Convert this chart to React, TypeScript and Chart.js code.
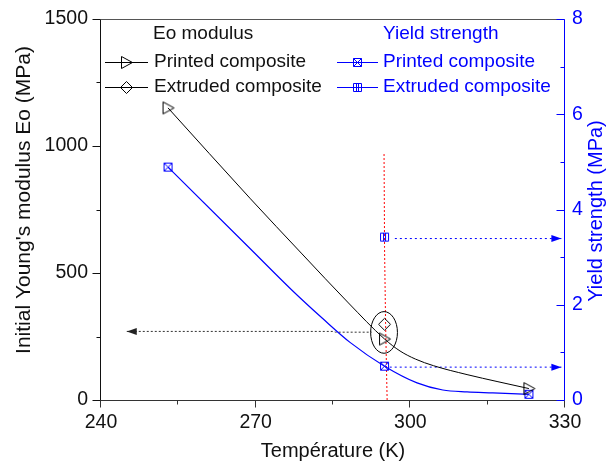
import React, { useEffect, useRef } from 'react';
import { Chart, registerables } from 'chart.js';

Chart.register(...registerables);

const FONT = '"Liberation Sans", Arial, Helvetica, sans-serif';
const BLUE = '#0000ff';
const INK = '#111111';

// ---- measured data points ----
const tempPoints = [253, 295, 323];
const eoPrinted = [1150, 240, 45];
const tempExtruded = [295];
const eoExtruded = [298];
const yieldPrinted = [4.89, 0.71, 0.12];
const yieldExtruded = [3.42];

// ---- guide curves ----
const eoCurveT = [253, 269, 279, 288, 295, 298, 301, 304.5, 311, 317, 323];
const eoCurve = [1150, 792, 575, 382, 240, 193, 161, 135, 100, 72, 45];
const yieldCurveT = [253, 269, 277, 283, 288.3, 295, 301.3, 306.3, 311, 316, 323];
const yieldCurve = [4.89, 3.17, 2.31, 1.71, 1.21, 0.71, 0.36, 0.21, 0.17, 0.15, 0.12];

// ---- annotations ----
const redGuideT = [295.5, 295.2, 295.0, 294.9];
const redGuideE = [0, 300, 600, 976];
const blackArrowT = [245, 285, 285.5, 292.5];
const blackArrowE = [270, 270, 267, 267];
const blueArrowUpperT = [297, 329.3];
const blueArrowUpperY = [3.39, 3.39];
const blueArrowLowerT = [296, 329.3];
const blueArrowLowerY = [0.69, 0.69];
const ellipseCenter = [294.9, 266];
const ellipseRadius = [2.6, 82];

// ---- axes ----
const xRange = [240, 330];
const xStep = 15;
const xLabelStep = 30;
const eoRange = [0, 1500];
const eoStep = 250;
const eoLabelStep = 500;
const yieldRange = [0, 8];
const yieldStep = 1;
const yieldLabelStep = 2;

const xTitle = 'Température (K)';
const eoTitle = "Initial Young's modulus Eo (MPa)";
const yieldTitle = 'Yield strength (MPa)';
const legendEoHeader = 'Eo modulus';
const legendYieldHeader = 'Yield strength';
const legendPrinted = 'Printed composite';
const legendExtruded = 'Extruded composite';

const pts = (xs: number[], ys: number[]) => xs.map((x, i) => ({ x, y: ys[i] }));

function makeMarker(kind: string, color: string): HTMLCanvasElement {
  const c = document.createElement('canvas');
  c.width = 15;
  c.height = 15;
  const g = c.getContext('2d')!;
  g.strokeStyle = color;
  g.lineWidth = 1;
  g.beginPath();
  if (kind === 'triRight') {
    g.moveTo(2.5, 1.5);
    g.lineTo(2.5, 13.5);
    g.lineTo(13.5, 7.5);
    g.closePath();
  } else if (kind === 'diamond') {
    g.moveTo(7.5, 1.5);
    g.lineTo(13.5, 7.5);
    g.lineTo(7.5, 13.5);
    g.lineTo(1.5, 7.5);
    g.closePath();
  } else if (kind === 'squareX') {
    g.rect(3.5, 3.5, 8, 8);
    g.moveTo(3.5, 3.5);
    g.lineTo(11.5, 11.5);
    g.moveTo(11.5, 3.5);
    g.lineTo(3.5, 11.5);
  } else if (kind === 'squareBar') {
    g.rect(3.5, 3.5, 8, 8);
    g.moveTo(6.5, 3.5);
    g.lineTo(6.5, 11.5);
    g.moveTo(8.5, 3.5);
    g.lineTo(8.5, 11.5);
  }
  g.stroke();
  return c;
}

function drawHead(ctx: CanvasRenderingContext2D, tx: number, ty: number, fx: number, fy: number, color: string) {
  const a = Math.atan2(ty - fy, tx - fx);
  const len = 10;
  const hw = 3.5;
  ctx.save();
  ctx.fillStyle = color;
  ctx.beginPath();
  ctx.moveTo(tx, ty);
  ctx.lineTo(tx - len * Math.cos(a) + hw * Math.sin(a), ty - len * Math.sin(a) - hw * Math.cos(a));
  ctx.lineTo(tx - len * Math.cos(a) - hw * Math.sin(a), ty - len * Math.sin(a) + hw * Math.cos(a));
  ctx.closePath();
  ctx.fill();
  ctx.restore();
}

export default function App() {
  const ref = useRef<HTMLCanvasElement | null>(null);

  useEffect(() => {
    const canvas = ref.current;
    if (!canvas) return;
    const mTri = makeMarker('triRight', '#000');
    const mDia = makeMarker('diamond', '#000');
    const mSqX = makeMarker('squareX', BLUE);
    const mSqB = makeMarker('squareBar', BLUE);

    const overlay = {
      id: 'overlay',
      afterDatasetsDraw(chart: any) {
        const ctx: CanvasRenderingContext2D = chart.ctx;
        const sx = chart.scales.x;
        const sy = chart.scales.y;
        const sy1 = chart.scales.y1;
        const cx = sx.getPixelForValue(ellipseCenter[0]);
        const cy = sy.getPixelForValue(ellipseCenter[1]);
        const rx = Math.abs(sx.getPixelForValue(ellipseCenter[0] + ellipseRadius[0]) - cx);
        const ry = Math.abs(sy.getPixelForValue(ellipseCenter[1] + ellipseRadius[1]) - cy);
        ctx.save();
        ctx.strokeStyle = '#000';
        ctx.lineWidth = 1;
        ctx.beginPath();
        ctx.ellipse(cx, cy, rx, ry, 0, 0, Math.PI * 2);
        ctx.stroke();
        ctx.restore();
        drawHead(ctx, sx.getPixelForValue(blackArrowT[0]), sy.getPixelForValue(blackArrowE[0]),
          sx.getPixelForValue(blackArrowT[1]), sy.getPixelForValue(blackArrowE[1]), '#222');
        drawHead(ctx, sx.getPixelForValue(blueArrowUpperT[1]), sy1.getPixelForValue(blueArrowUpperY[1]),
          sx.getPixelForValue(blueArrowUpperT[0]), sy1.getPixelForValue(blueArrowUpperY[0]), BLUE);
        drawHead(ctx, sx.getPixelForValue(blueArrowLowerT[1]), sy1.getPixelForValue(blueArrowLowerY[1]),
          sx.getPixelForValue(blueArrowLowerT[0]), sy1.getPixelForValue(blueArrowLowerY[0]), BLUE);
      },
      afterDraw(chart: any) {
        const ctx: CanvasRenderingContext2D = chart.ctx;
        const a = chart.chartArea;
        const sx = chart.scales.x;
        const sy = chart.scales.y;
        const sy1 = chart.scales.y1;
        const L = Math.round(a.left) - 0.5;
        const R = Math.round(a.right) - 0.5;
        const T = Math.round(a.top) + 0.5;
        const B = Math.round(a.bottom) + 0.5;
        const line = (x1: number, y1: number, x2: number, y2: number, color: string) => {
          ctx.strokeStyle = color;
          ctx.beginPath();
          ctx.moveTo(x1, y1);
          ctx.lineTo(x2, y2);
          ctx.stroke();
        };
        ctx.save();
        ctx.lineWidth = 1;
        line(L, T, R, T, '#555');
        line(L, B, R, B, '#333');
        line(L, T, L, B, INK);
        line(R, T, R, B, BLUE);
        for (let v = xRange[0]; v <= xRange[1] + 1e-9; v += xStep) {
          const p = Math.round(sx.getPixelForValue(v)) - 0.5;
          const len = v % xLabelStep === 0 ? 7 : 4;
          line(p, B, p, B + len, '#333');
        }
        for (let v = eoRange[0]; v <= eoRange[1] + 1e-9; v += eoStep) {
          const p = Math.round(sy.getPixelForValue(v)) + 0.5;
          const len = v % eoLabelStep === 0 ? 8 : 4;
          line(L - len, p, L, p, INK);
        }
        for (let v = yieldRange[0]; v <= yieldRange[1] + 1e-9; v += yieldStep) {
          const p = Math.round(sy1.getPixelForValue(v)) + 0.5;
          const len = v % yieldLabelStep === 0 ? 8 : 4;
          line(R - len, p, R, p, BLUE);
        }
        // titles
        ctx.textAlign = 'center';
        ctx.textBaseline = 'middle';
        ctx.fillStyle = INK;
        ctx.font = `20px ${FONT}`;
        ctx.fillText(xTitle, (a.left + a.right) / 2, 451);
        ctx.save();
        ctx.font = `21px ${FONT}`;
        ctx.translate(24, 200);
        ctx.rotate(-Math.PI / 2);
        ctx.fillText(eoTitle, 0, 0);
        ctx.restore();
        ctx.save();
        ctx.font = `20px ${FONT}`;
        ctx.fillStyle = BLUE;
        ctx.translate(596, 211);
        ctx.rotate(-Math.PI / 2);
        ctx.fillText(yieldTitle, 0, 0);
        ctx.restore();
        // legend
        ctx.font = `19px ${FONT}`;
        ctx.textAlign = 'left';
        ctx.fillStyle = INK;
        ctx.fillText(legendEoHeader, 153, 34);
        ctx.fillText(legendPrinted, 154, 62);
        ctx.fillText(legendExtruded, 154, 87);
        ctx.fillStyle = BLUE;
        ctx.fillText(legendYieldHeader, 383, 34);
        ctx.fillText(legendPrinted, 383, 62);
        ctx.fillText(legendExtruded, 383, 87);
        line(105, 62.5, 148, 62.5, '#000');
        line(105, 87.5, 148, 87.5, '#000');
        line(337, 62.5, 378, 62.5, BLUE);
        line(337, 87.5, 378, 87.5, BLUE);
        ctx.drawImage(mTri, 119, 55);
        ctx.drawImage(mDia, 119, 80);
        ctx.drawImage(mSqX, 350, 55);
        ctx.drawImage(mSqB, 350, 80);
        ctx.restore();
      },
    };

    const tickFont = { family: FONT, size: 19.5 };

    const chart = new Chart(canvas, {
      type: 'scatter',
      data: {
        datasets: [
          { label: 'Eo printed', data: pts(tempPoints, eoPrinted), yAxisID: 'y', showLine: false, pointStyle: mTri as any, pointRadius: 7 },
          { label: 'Eo extruded', data: pts(tempExtruded, eoExtruded), yAxisID: 'y', showLine: false, pointStyle: mDia as any, pointRadius: 7 },
          { label: 'Yield printed', data: pts(tempPoints, yieldPrinted), yAxisID: 'y1', showLine: false, pointStyle: mSqX as any, pointRadius: 6 },
          { label: 'Yield extruded', data: pts(tempExtruded, yieldExtruded), yAxisID: 'y1', showLine: false, pointStyle: mSqB as any, pointRadius: 6 },
          { label: 'Eo curve', data: pts(eoCurveT, eoCurve), yAxisID: 'y', showLine: true, pointRadius: 0, borderColor: '#000', borderWidth: 1, cubicInterpolationMode: 'monotone' },
          { label: 'Yield curve', data: pts(yieldCurveT, yieldCurve), yAxisID: 'y1', showLine: true, pointRadius: 0, borderColor: BLUE, borderWidth: 1.2, cubicInterpolationMode: 'monotone' },
          { label: 'red guide', data: pts(redGuideT, redGuideE), yAxisID: 'y', showLine: true, pointRadius: 0, borderColor: '#ff0000', borderWidth: 1, borderDash: [2, 2] },
          { label: 'black arrow', data: pts(blackArrowT, blackArrowE), yAxisID: 'y', showLine: true, pointRadius: 0, borderColor: '#333', borderWidth: 1, borderDash: [2, 2] },
          { label: 'blue arrow upper', data: pts(blueArrowUpperT, blueArrowUpperY), yAxisID: 'y1', showLine: true, pointRadius: 0, borderColor: BLUE, borderWidth: 1, borderDash: [2, 3] },
          { label: 'blue arrow lower', data: pts(blueArrowLowerT, blueArrowLowerY), yAxisID: 'y1', showLine: true, pointRadius: 0, borderColor: BLUE, borderWidth: 1, borderDash: [2, 3] },
        ] as any,
      },
      options: {
        responsive: false,
        animation: false,
        devicePixelRatio: 1,
        layout: { padding: { top: 19, left: 0, right: 0, bottom: 0 } },
        plugins: { legend: { display: false }, tooltip: { enabled: false } },
        scales: {
          x: {
            type: 'linear',
            min: xRange[0],
            max: xRange[1],
            grid: { display: false, drawTicks: false },
            border: { display: false },
            ticks: {
              stepSize: xStep,
              autoSkip: false,
              maxRotation: 0,
              padding: 11,
              color: INK,
              font: tickFont,
              callback: (v: any) => (Number(v) % xLabelStep === 0 ? String(v) : ''),
            },
            afterFit: (s: any) => { s.height = 66; s.paddingLeft = 0; s.paddingRight = 0; },
          },
          y: {
            type: 'linear',
            position: 'left',
            min: eoRange[0],
            max: eoRange[1],
            grid: { display: false, drawTicks: false },
            border: { display: false },
            ticks: {
              stepSize: eoStep,
              autoSkip: false,
              padding: 13,
              color: INK,
              font: tickFont,
              callback: (v: any) => (Number(v) % eoLabelStep === 0 ? String(v) : ''),
            },
            afterFit: (s: any) => { s.width = 101; s.paddingTop = 0; s.paddingBottom = 0; },
          },
          y1: {
            type: 'linear',
            position: 'right',
            min: yieldRange[0],
            max: yieldRange[1],
            grid: { display: false, drawTicks: false },
            border: { display: false },
            ticks: {
              stepSize: yieldStep,
              autoSkip: false,
              padding: 7,
              color: BLUE,
              font: tickFont,
              callback: (v: any) => (Number(v) % yieldLabelStep === 0 ? String(v) : ''),
            },
            afterFit: (s: any) => { s.width = 43; s.paddingTop = 0; s.paddingBottom = 0; },
          },
        },
      } as any,
      plugins: [overlay],
    });
    return () => chart.destroy();
  }, []);

  return (
    <div style={{ position: 'fixed', left: 0, top: 0, width: 608, height: 466, background: '#fff' }}>
      <canvas ref={ref} width={608} height={466} style={{ display: 'block' }} />
    </div>
  );
}
